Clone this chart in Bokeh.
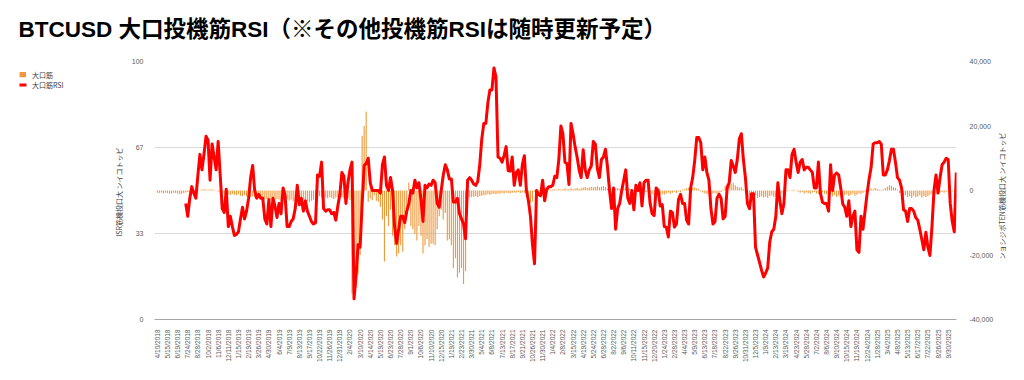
import math
import pandas as pd
from bokeh.plotting import figure
from bokeh.layouts import column, row
from bokeh.models import (Range1d, LinearAxis, FixedTicker, NumeralTickFormatter,
                          CustomJSTickFormatter)
from bokeh.core.properties import value
from bokeh.embed import file_html
from bokeh.resources import INLINE

# ---------------- data ----------------
start_date = "2018-04-10"
n_weeks = 395
week_dates = pd.date_range(start_date, periods=n_weeks, freq="7D")
date_labels = [f"{d.month}/{d.day}/{d.year}" for d in week_dates]
tick_step = 5

nan = float("nan")
# 大口筋 net position (right axis)
large_net = [
    -700, -800, -600, -900, -700, -800, -1000, -900, -700, -800,
    -900, -1100, -1000, -800, -600, -500, -400, -300, -500, -400,
    -300, 200, 300, 400, 300, 200, 400, 300, 200, 100,
    -300, -600, -900, -1000, -800, -1200, -1400, -1100, -1300, -1500,
    -1200, -1600, -1800, -1400, -1700, -1900, -2000, -1800, -2200, -2400,
    -2100, -2500, -2300, -2800, -2600, -2400, -2900, -2700, -3000, -2600,
    -2800, -3200, -2900, -2500, -2700, -3100, -2800, -3300, -3000, -2600,
    -2900, -3400, -3100, -2800, -3300, -3600, -3200, -2900, -2400, -2000,
    -1800, -2200, -2500, -2100, -2400, -2000, -2300, -2600, -2200, -2000,
    -1800, -2100, -2400, -2000, -2500, -3000, -32000, -33500, -30000, -26000,
    -20000, 17000, 20000, 24500, -3500, -2500, -3000, -1500, -3200, -3500,
    -5000, -9000, -22000, -8000, -11000, -6000, -14000, -17000, -20500, -19500,
    -17000, -19000, -12000, -8000, 2500, -11000, -12000, -13500, -15500, -11000,
    -14000, -19500, -17000, -15000, -17500, -16500, -16500, -17000, -12000, -8000,
    -6000, -9000, -7000, -15500, -15000, -17000, -24000, -21000, -27000, -25500,
    -24000, -29000, -25000, -4000, -2200, -2000, -1900, -1800, -2100, -1700,
    -1600, -1500, -1400, -1200, -1300, -1100, -1000, -1200, -900, -1000,
    -800, -900, -700, -800, -900, -700, -600, -700, -500, -800,
    -600, -700, -900, -1500, -3800, -3500, -400, 200, -300, 300,
    200, 400, 300, 500, -200, 300, 400, 200, 500, 300,
    400, 600, 300, 500, 700, 400, 600, 800, 500, 700,
    900, 1100, 800, 1000, 1200, 900, 1100, 1300, 1000, 1200,
    1400, 1100, 600, 300, -200, 400, 600, 800, 500, 900,
    700, 1000, 800, 600, 300, -300, 200, -400, 300, -200,
    100, -500, -300, -800, -1200, -1500, -1000, -1800, -1400, -1100,
    -1300, -900, -600, -1000, -700, -400, -800, -300, -500, 200,
    400, 700, 900, 600, 800, 1000, 700, 500, -300, -600,
    -900, -1100, -700, -1300, -1000, -800, -1200, -900, -500, 300,
    1500, 2200, 1800, 2000, 2300, 1600, 1200, 900, 1000, 400,
    -800, -1200, -1600, -1900, -2100, -1500, -2300, -2000, -1800, -2200,
    -1900, -2300, -1700, -1500, -2000, -1800, -1300, -1100, -900, -600,
    -300, 200, 100, -200, 300, -100, -400, -700, -500, -900,
    -600, -800, -1000, -700, -500, -900, -1100, -800, -600, -1000,
    -1200, -1500, -1100, -1800, -1400, -2000, -1600, -1300, -1900, -1500,
    -1200, -1700, -1400, -1000, -1600, -1300, -900, -1100, -700, -400,
    -200, 300, 600, 400, 800, 500, 300, -200, 400, 700,
    1200, 1600, 1400, 1000, 800, 300, -800, -1300, -1700, -1500,
    -2000, -1800, -2300, -1600, -2100, -1900, -1500, -2200, -1800, -2000,
    -1700, -1300, -1000, -800, -1200, -900, -600, -500, -700, -400,
    -300, -500, -200, -400, -300,
]
# 大口筋RSI (left axis)
large_rsi = [nan] * 14 + [
    45, 40, 47, 51.5, 49, 47,
    56, 64, 58, 64, 71, 69.5, 54, 68, 63, 58,
    69, 56, 43, 41.5, 50.5, 36, 40, 36, 32.6, 33,
    34, 39, 43.5, 39, 42, 47, 55, 59.7, 50, 47,
    48.5, 47, 47, 39, 37, 46.5, 36, 47, 44, 39.5,
    45, 41, 51, 48, 36, 36, 38, 39, 43, 52,
    44.5, 47, 42, 46, 42, 40, 38, 37, 37.5, 56,
    55.5, 61, 43, 42, 42.5, 42.5, 41, 41.5, 38.5, 44,
    48.5, 57, 55.5, 45, 53, 58, 61, 8, 17, 29,
    28, 45, 59.7, 60.5, 62.5, 53, 50, 50, 50, 50,
    49, 60, 63, 52, 50, 55, 50, 36, 29.5, 35,
    40, 40, 37.5, 42, 44.8, 50, 49, 54, 51, 53,
    46.5, 38, 52, 51, 52.5, 52, 54, 53, 45, 43.5,
    50, 56, 60, 58, 54.5, 54.5, 45.5, 45.5, 47, 41,
    39, 37, 31.3, 54, 55, 54, 52.5, 52, 53.5, 60,
    70, 76, 76, 84, 89, 89, 97.5, 94, 63, 62.5,
    61, 63.5, 67, 57.7, 57.5, 63, 52, 57, 58, 52,
    60, 63.5, 50, 46, 40, 29, 21.6, 50, 48.5, 48,
    54, 46, 50.5, 51.5, 51.5, 52, 55.5, 55, 62, 75,
    72, 61, 60.5, 52.3, 76, 72, 67, 63, 58, 55,
    65.8, 58, 55, 58, 59.5, 69, 68, 58.5, 55, 62,
    63, 66, 59, 50, 43, 51, 35, 43, 45, 50,
    54, 58, 47, 45, 50, 42.5, 52, 50, 53, 44,
    53, 54, 54, 45, 41, 40.3, 51, 50, 44, 44.5,
    36, 35.8, 32, 42, 41.5, 35.8, 37, 46.5, 48.5, 45,
    45, 38.5, 37, 51, 55, 61.6, 70.5, 70.5, 68.5, 58,
    63, 57, 54, 43, 37, 38, 47, 48.5, 47, 39,
    40, 51, 53, 61.6, 59.5, 57, 62, 70, 72, 62,
    55, 45, 42.9, 48.7, 48.7, 28, 25, 22, 19, 16.5,
    18, 20, 30, 34, 35, 40, 53, 46, 41, 45,
    58, 58, 55, 64, 66, 61, 57, 61, 62, 58,
    59, 59, 58, 57, 51, 51, 61, 49, 45.5, 45,
    45, 42, 60, 50, 56, 56.8, 56, 51, 44.8, 43.5,
    40, 46, 36, 40, 42, 27, 26, 40, 35, 42,
    48.7, 54.5, 59, 68, 68.5, 68.5, 69, 68, 56, 56,
    58, 61.5, 66, 66, 61, 55, 54, 51, 42.5, 42,
    38, 43, 43, 42, 39.5, 38.5, 35, 31, 27, 33.8,
    28, 24.8, 36, 50, 56, 49, 55, 60, 61, 62.5,
    62, 45, 38, 34, 57,
]
left_ticks = [0, 100 / 3, 200 / 3, 100]
right_ticks = [-40000, -20000, 0, 20000, 40000]

title_text = "BTCUSD 大口投機筋RSI（※その他投機筋RSIは随時更新予定）"
left_title = "ISR筋機投口大 ンイコトッビ"
right_title = "ンョシジポTEN筋機投口大 ンイコトッビ"
bar_name = "大口筋"
line_name = "大口筋RSI"

# ---------------- style ----------------
LATIN = "Liberation Sans"
CJK = "Noto Sans CJK JP"
GRAY = "#595959"
ORANGE = "#ED9A3E"
RED = "#FF0000"

TOP_H = 44
BODY_H = 328
LEFT_W = 128
MAIN_W = 868
RIGHT_W = 20
TOTAL_W = LEFT_W + MAIN_W + RIGHT_W
PAGE_H = TOP_H + BODY_H


def blank(w, h):
    f = figure(width=w, height=h, output_backend="svg", toolbar_location=None,
               x_range=Range1d(0, w), y_range=Range1d(0, h),
               x_axis_location=None, y_axis_location=None,
               min_border=0, min_border_left=0, min_border_right=0,
               min_border_top=0, min_border_bottom=0,
               background_fill_color="white", border_fill_color="white")
    f.outline_line_color = None
    f.grid.visible = False
    return f


# ---- title strip ----
top = blank(TOTAL_W, TOP_H)
top.text(x=[18], y=[TOP_H - 29], text=[title_text], text_align="left",
         text_baseline="middle", text_font=value(f"{LATIN}, {CJK}"),
         text_font_size=value("22.5px"), text_font_style="bold", text_color="black")

# ---- main chart ----
p = figure(width=MAIN_W, height=BODY_H, output_backend="svg", toolbar_location=None,
           x_range=Range1d(-1.4, 394.1), y_range=Range1d(0, 100),
           min_border_left=24, min_border_right=40, min_border_top=17,
           min_border_bottom=53, background_fill_color="white",
           border_fill_color="white")
p.outline_line_color = None
p.extra_y_ranges = {"right": Range1d(-40000, 40000)}

bar_x = list(range(len(large_net)))
line_x = list(range(len(large_rsi)))

p.vbar(x=bar_x, top=large_net, bottom=0, width=0.55, y_range_name="right",
       fill_color=ORANGE, line_color=None)
p.line(x=line_x, y=large_rsi, line_color=RED, line_width=3, line_join="round")

xa = p.xaxis[0]
xa.ticker = FixedTicker(ticks=list(range(0, n_weeks, tick_step)))
xa.formatter = CustomJSTickFormatter(args=dict(labels=date_labels),
                                     code="return labels[Math.round(tick)] || '';")
xa.major_label_orientation = math.pi / 2
xa.axis_line_color = "#a6a6a6"
xa.major_label_standoff = 4

ya = p.yaxis[0]
ya.ticker = FixedTicker(ticks=left_ticks)
ya.formatter = CustomJSTickFormatter(code="return Math.round(tick).toString();")
ya.axis_line_color = None
ya.major_label_standoff = 5

ra = LinearAxis(y_range_name="right", ticker=FixedTicker(ticks=right_ticks),
                formatter=NumeralTickFormatter(format="0,0"))
ra.axis_line_color = None
ra.major_label_standoff = 7
p.add_layout(ra, "right")

for ax in [xa, ya, ra]:
    ax.major_tick_line_color = None
    ax.minor_tick_line_color = None
    ax.major_label_text_font = LATIN
    ax.major_label_text_font_size = "6.5px" if ax is xa else "7px"
    ax.major_label_text_color = GRAY

p.xgrid.visible = False
p.ygrid[0].ticker = ya.ticker
p.ygrid.grid_line_color = "#d9d9d9"
p.ygrid.grid_line_width = 1

# ---- left strip: legend + left axis title ----
left = blank(LEFT_W, BODY_H)
left.rect(x=[22.3], y=[PAGE_H - 60.7], width=6.5, height=6.5,
          fill_color=ORANGE, line_color=None)
left.line(x=[19, 26], y=[PAGE_H - 74, PAGE_H - 74], line_color=RED, line_width=3)
left.text(x=[31.5, 31.5], y=[PAGE_H - 60.7, PAGE_H - 74], text=[bar_name, line_name],
          text_align="left", text_baseline="middle", text_font=value(CJK),
          text_font_size=value("7px"), text_color="#404040")
left.text(x=[118], y=[PAGE_H - 210], text=[left_title], angle=math.pi / 2,
          text_align="center", text_baseline="middle", text_font=value(CJK),
          text_font_size=value("7px"), text_color="#404040")

# ---- right strip: right axis title ----
right = blank(RIGHT_W, BODY_H)
right.text(x=[5], y=[PAGE_H - 215], text=[right_title], angle=math.pi / 2,
           text_align="center", text_baseline="middle", text_font=value(CJK),
           text_font_size=value("7px"), text_color="#404040")

layout = column(top, row(left, p, right, spacing=0), spacing=0)

open("out.html", "w").write(file_html(layout, INLINE))
